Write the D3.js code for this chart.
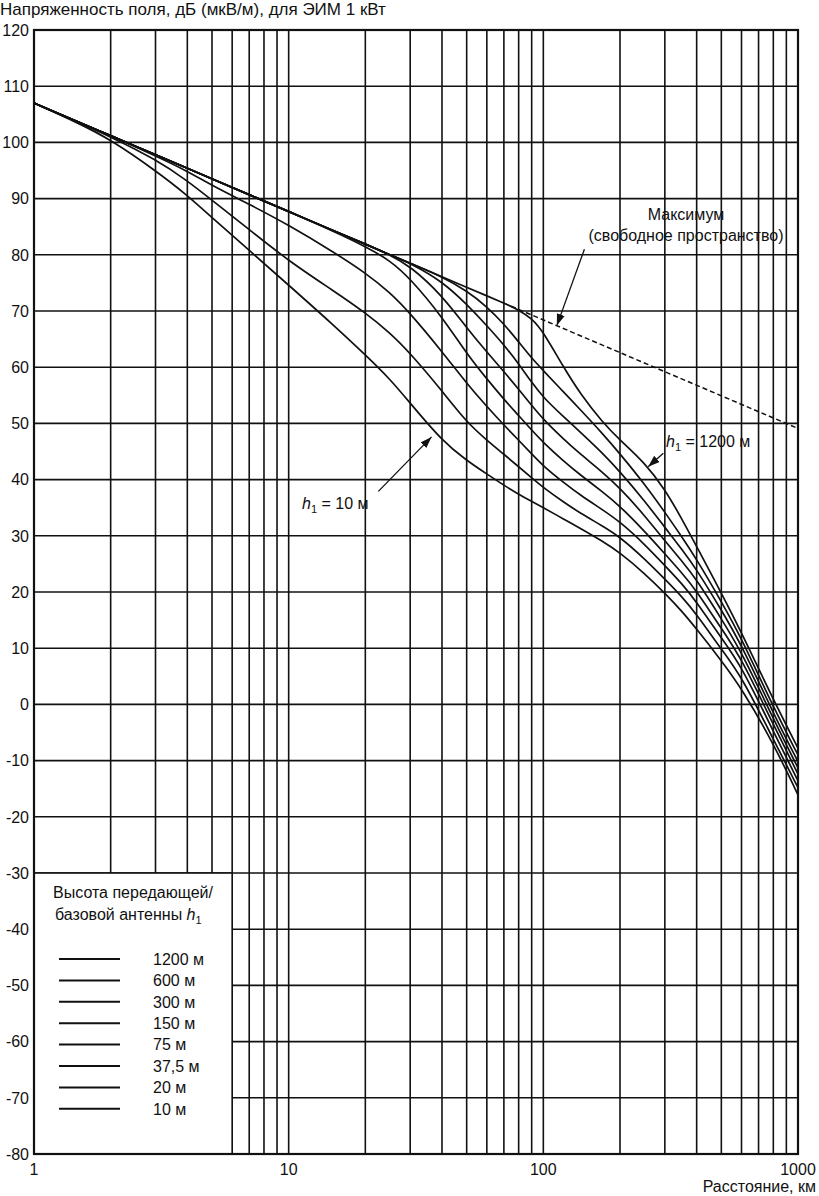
<!DOCTYPE html>
<meta charset="utf-8">
<style>
  body { margin: 0; background: #fff; }
  svg { display: block; }
  text { font-family: 'Liberation Sans', Arial, sans-serif; fill: #111; font-size: 16px; }
  .grid line { stroke: #111; stroke-width: 1.6px; }
  .curve { fill: none; stroke: #111; stroke-width: 1.7px; }
  .maxline { fill: none; stroke: #111; stroke-width: 1.5px; stroke-dasharray: 5 3; }
  .arrow { stroke: #111; stroke-width: 1.3px; fill: none; }
</style>
<script src="https://d3js.org/d3.v7.min.js"></script>

<svg width="819" height="1196"></svg>

<script>
  // distances, km
  var dist = [1, 1.5, 2, 3, 4, 5, 7, 10, 15, 20, 25, 30, 40, 50, 60, 70, 80, 90, 100,
              120, 140, 170, 200, 250, 300, 350, 400, 500, 600, 800, 1000];

  // field strength, dB(uV/m), per transmitting antenna height
  var h1200 = [107, 103.6, 101.2, 97.8, 95.4, 93.5, 90.7, 87.7, 84.3, 81.9, 80.0, 78.5, 76.1, 74.2, 72.7, 71.4, 70.2, 68.7, 66.3,
               60.0, 55.2, 50.3, 47.0, 43.0, 38.3, 33.0, 28.1, 19.8, 12.8, 0.8, -7.8];
  var h600  = [107, 103.6, 101.2, 97.8, 95.4, 93.5, 90.7, 87.7, 84.3, 81.9, 80.0, 78.5, 76.1, 73.6, 70.8, 67.7, 64.5, 61.6, 59.4,
               55.6, 52.4, 48.3, 44.6, 39.2, 34.2, 29.8, 25.8, 18.3, 11.8, -0.5, -9.0];
  var h300  = [107, 103.6, 101.2, 97.8, 95.4, 93.5, 90.7, 87.7, 84.3, 81.9, 80.0, 78.5, 75.3, 71.2, 67.4, 64.0, 60.6, 57.3, 54.6,
               51.2, 48.4, 44.8, 41.4, 36.2, 31.5, 27.6, 24.0, 16.8, 10.6, -1.6, -10.2];
  var h150  = [107, 103.6, 101.2, 97.8, 95.4, 93.5, 90.7, 87.7, 84.3, 81.9, 80.0, 78.0, 72.8, 67.0, 62.7, 59.2, 56.1, 53.2, 50.7,
               47.2, 44.5, 41.4, 38.5, 33.6, 29.1, 25.5, 22.2, 15.2, 9.4, -2.6, -11.3];
  var h75   = [107, 103.6, 101.2, 97.8, 95.4, 93.5, 90.7, 87.7, 84.2, 81.5, 79.0, 75.8, 69.0, 62.4, 57.9, 54.3, 51.4, 48.8, 46.6,
               43.3, 40.8, 37.9, 35.3, 30.8, 26.8, 23.4, 20.2, 13.5, 8.2, -3.6, -12.4];
  var h37   = [107, 103.6, 101.2, 97.6, 94.9, 92.3, 89.0, 85.3, 80.5, 76.8, 73.3, 69.6, 62.8, 57.1, 53.0, 49.7, 47.0, 44.6, 42.4,
               39.5, 37.2, 34.7, 32.5, 28.5, 24.7, 21.5, 18.2, 11.8, 6.8, -4.8, -13.6];
  var h20   = [107, 103.5, 101.0, 97.0, 93.2, 89.7, 84.5, 78.9, 73.6, 69.7, 66.1, 62.5, 55.8, 50.2, 47.0, 44.5, 42.3, 40.3, 38.6,
               36.0, 34.0, 31.8, 29.8, 25.9, 22.3, 19.2, 16.0, 9.8, 5.0, -6.2, -14.8];
  var h10   = [107, 103.4, 100.5, 95.0, 90.6, 86.6, 80.8, 74.6, 67.5, 62.2, 57.9, 53.6, 46.9, 43.4, 41.0, 39.0, 37.4, 36.1, 35.0,
               33.0, 31.3, 29.1, 27.0, 23.3, 19.8, 16.6, 13.4, 7.8, 2.9, -6.9, -16.1];

  var heightLabels = ["1200 м", "600 м", "300 м", "150 м", "75 м", "37,5 м", "20 м", "10 м"];
  var series = [h1200, h600, h300, h150, h75, h37, h20, h10];

  // free-space maximum (dashed part)
  var maxDist = [70, 1000];
  var maxVal = [71.4, 49.1];

  var yTicks = d3.range(-80, 121, 10);
  var xTickLabels = [1, 10, 100, 1000];

  var svg = d3.select("svg");

  var x = d3.scaleLog().domain([1, 1000]).range([34, 798]);
  var y = d3.scaleLinear().domain([-80, 120]).range([1154, 30]);

  // grid
  var grid = svg.append("g").attr("class", "grid");
  grid.selectAll(".v").data(x.ticks()).enter().append("line")
    .attr("x1", function(d) { return x(d); }).attr("x2", function(d) { return x(d); })
    .attr("y1", y(120)).attr("y2", y(-80));
  grid.selectAll(".h").data(yTicks).enter().append("line")
    .attr("x1", x(1)).attr("x2", x(1000))
    .attr("y1", function(d) { return y(d); }).attr("y2", function(d) { return y(d); });

  // legend area has no grid
  svg.append("rect")
    .attr("x", x(1)).attr("y", y(-30))
    .attr("width", x(6) - x(1)).attr("height", y(-80) - y(-30))
    .attr("fill", "#fff").attr("stroke", "#111").attr("stroke-width", 1.6);

  // frame
  svg.append("rect")
    .attr("x", x(1)).attr("y", y(120))
    .attr("width", x(1000) - x(1)).attr("height", y(-80) - y(120))
    .attr("fill", "none").attr("stroke", "#111").attr("stroke-width", 2.2);

  // y tick labels
  svg.selectAll(".ylab").data(yTicks).enter().append("text")
    .attr("x", 29).attr("y", function(d) { return y(d); }).attr("dy", "0.36em")
    .attr("text-anchor", "end")
    .text(function(d) { return d; });

  // x tick labels
  svg.selectAll(".xlab").data(xTickLabels).enter().append("text")
    .attr("x", function(d) { return x(d); }).attr("y", 1175)
    .attr("text-anchor", "middle")
    .text(function(d) { return d; });

  svg.append("text").attr("x", 0).attr("y", 15).style("font-size", "17px")
    .text("Напряженность поля, дБ (мкВ/м), для ЭИМ 1 кВт");
  svg.append("text").attr("x", 816).attr("y", 1192).attr("text-anchor", "end")
    .text("Расстояние, км");

  // curves
  var line = d3.line()
    .x(function(d) { return x(d[0]); })
    .y(function(d) { return y(d[1]); })
    .curve(d3.curveBasis);

  svg.append("path").attr("class", "maxline")
    .attr("d", d3.line().x(function(d) { return x(d[0]); }).y(function(d) { return y(d[1]); })(d3.zip(maxDist, maxVal)));

  svg.selectAll(".curve").data(series).enter().append("path")
    .attr("class", "curve")
    .attr("d", function(s) { return line(d3.zip(dist, s)); });

  // arrows
  svg.append("defs").append("marker")
    .attr("id", "head").attr("viewBox", "0 0 10 10")
    .attr("refX", 10).attr("refY", 5)
    .attr("markerWidth", 9).attr("markerHeight", 9)
    .attr("orient", "auto")
    .append("path").attr("d", "M0,1.5L10,5L0,8.5Z").attr("fill", "#111");

  function arrow(d0, v0, d1, v1) {
    svg.append("line").attr("class", "arrow")
      .attr("x1", x(d0)).attr("y1", y(v0))
      .attr("x2", x(d1)).attr("y2", y(v1))
      .attr("marker-end", "url(#head)");
  }
  arrow(145, 81, 113, 67.4);
  arrow(296, 44.7, 258, 42.3);
  arrow(22.5, 37.9, 36.4, 47.6);

  svg.append("text").attr("x", 686).attr("y", 220).attr("text-anchor", "middle").text("Максимум");
  svg.append("text").attr("x", 686).attr("y", 241).attr("text-anchor", "middle").text("(свободное пространство)");

  function hLabel(px, py, rest) {
    var t = svg.append("text").attr("x", px).attr("y", py);
    t.append("tspan").attr("font-style", "italic").text("h");
    t.append("tspan").attr("dy", 4).attr("font-size", "11px").text("1");
    t.append("tspan").attr("dy", -4).text(rest);
  }
  hLabel(666, 447, " = 1200 м");
  hLabel(302, 509, " = 10 м");

  // legend
  svg.append("text").attr("x", 133).attr("y", 898).attr("text-anchor", "middle").text("Высота передающей/");
  var lt = svg.append("text").attr("x", 55).attr("y", 920);
  lt.append("tspan").text("базовой антенны ");
  lt.append("tspan").attr("font-style", "italic").text("h");
  lt.append("tspan").attr("dy", 4).attr("font-size", "11px").text("1");

  var leg = svg.selectAll(".leg").data(heightLabels).enter().append("g")
    .attr("transform", function(d, i) { return "translate(0," + (959 + i * 21.4) + ")"; });
  leg.append("line").attr("x1", 59).attr("x2", 120).attr("y1", 0).attr("y2", 0)
    .attr("stroke", "#111").attr("stroke-width", 2);
  leg.append("text").attr("x", 153).attr("dy", "0.36em").text(function(d) { return d; });
</script>
